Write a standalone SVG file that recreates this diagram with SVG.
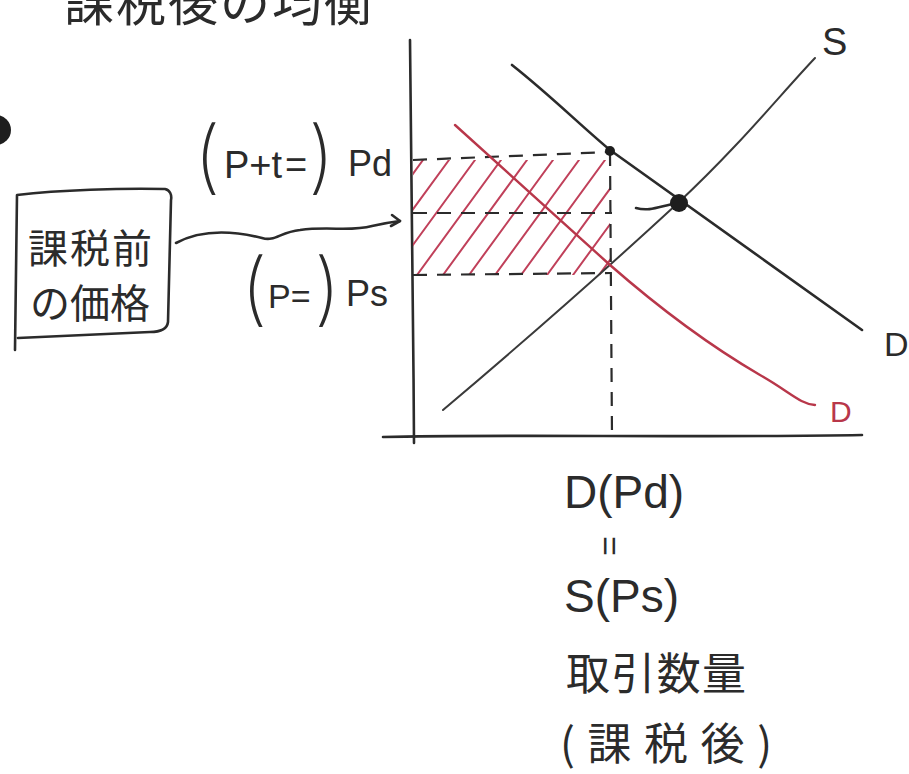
<svg xmlns="http://www.w3.org/2000/svg" width="909" height="774" viewBox="0 0 909 774">
<defs>
<style>
.ink{fill:none;stroke:#2b2b2b;stroke-width:2.6;stroke-linecap:round;stroke-linejoin:round}
.thin{fill:none;stroke:#3a3a3a;stroke-width:2;stroke-linecap:round}
.red{fill:none;stroke:#b8374a;stroke-width:2.4;stroke-linecap:round;stroke-linejoin:round}
.hatch{fill:none;stroke:#c0405a;stroke-width:2;stroke-linecap:round}
.dash{fill:none;stroke:#2b2b2b;stroke-width:2.2;stroke-dasharray:14 10}
.lat{font-family:"Liberation Sans","DejaVu Sans",sans-serif;fill:#2b2b2b}
.par{font-family:Inter,"DejaVu Sans",sans-serif;font-weight:200;fill:#2b2b2b}
.jp{font-family:"Noto Sans CJK JP","Noto Sans CJK SC",sans-serif;fill:#2b2b2b}
</style>
<clipPath id="hc"><rect x="413" y="160" width="197" height="115"/></clipPath>
</defs>
<rect width="909" height="774" fill="#ffffff"/>

<!-- cut title -->
<text class="jp" x="64" y="21" font-size="50" textLength="310">課税後の均衡</text>
<circle cx="-4" cy="130" r="15" fill="#1e1e1e"/>

<!-- axes -->
<g id="axes">
<path class="ink" d="M410,40 C412,150 413,300 414,443"/>
<path class="ink" d="M383,437 C500,434 700,438 862,435"/>
</g>

<!-- hatch -->
<g id="surplus" clip-path="url(#hc)">
<path class="hatch" d="M339,275L423,160M365,275L449,160M391,275L475,160M417,275L501,160M443,275L527,160M469,275L553,160M495,275L579,160M521,275L605,160M547,275L631,160M573,275L657,160M599,275L683,160"/>
</g>

<g id="connectors">
<path class="dash" d="M413,160 L610,152"/>
<path class="dash" d="M413,213 L612,213"/>
<path class="ink" d="M636,208 C650,212 660,206 678,203"/>
<path class="dash" d="M413,275 L610,273"/>
<path class="dash" d="M610,152 L612,437"/>
<path class="ink" d="M176,243 C200,230 230,230 262,238 C275,242 280,232 300,230 C330,226 350,232 372,226 C385,223 392,222 400,221"/>
<path class="ink" d="M392,215 L400,221 L391,226"/>
</g>

<!-- curves -->
<g id="supply">
<path class="thin" d="M443,410 C520,345 600,275 678,203 C740,145 780,95 815,58"/>
<text class="lat" x="822" y="55" font-size="38">S</text>
</g>
<g id="demand">
<path class="ink" d="M512,65 C550,95 580,125 610,150 L862,330"/>
<text class="lat" x="884" y="356" font-size="34">D</text>
</g>
<g id="demand-tax">
<path class="red" d="M455,125 L610,265 C650,300 700,340 760,375 C790,392 800,404 815,405"/>
<text class="lat" x="830" y="422" font-size="30" style="fill:#b8374a">D</text>
</g>
<g id="points">
<circle cx="610" cy="151" r="5" fill="#1e1e1e"/>
<circle cx="679" cy="203" r="9" fill="#1e1e1e"/>
</g>

<!-- price labels -->
<g id="pd-label">
<text class="lat" y="184"><tspan class="par" x="194" font-size="80">(</tspan><tspan x="224" y="178" font-size="38">P+t</tspan><tspan x="285" y="178" font-size="38">=</tspan><tspan class="par" x="308" y="184" font-size="80">)</tspan></text>
<text class="lat" x="348" y="176" font-size="36">Pd</text>
</g>
<g id="ps-label">
<text class="lat" y="316"><tspan class="par" x="241" font-size="80">(</tspan><tspan x="268" y="308" font-size="34">P=</tspan><tspan class="par" x="314" y="316" font-size="80">)</tspan></text>
<text class="lat" x="346" y="306" font-size="36">Ps</text>
</g>

<g id="before-tax">
<path class="ink" d="M15,350 L17,195 C60,190 120,188 165,189 C170,190 172,195 171,200 L168,322 C167,330 160,332 150,332 L18,338"/>
<text class="jp" x="28" y="263" font-size="40" textLength="124">課税前</text>
<text class="jp" x="30" y="318" font-size="40" textLength="120">の価格</text>
</g>

<g id="quantity">
<text class="lat" x="564" y="508" font-size="46">D(Pd)</text>
<text class="lat" x="0" y="0" font-size="34" transform="translate(598,536) rotate(90)">=</text>
<text class="lat" x="564" y="612" font-size="46">S(Ps)</text>
<text class="jp" x="566" y="690" font-size="44" textLength="180">取引数量</text>
<text class="jp" x="560" y="760" font-size="44" textLength="212">(課税後)</text>
</g>
</svg>
